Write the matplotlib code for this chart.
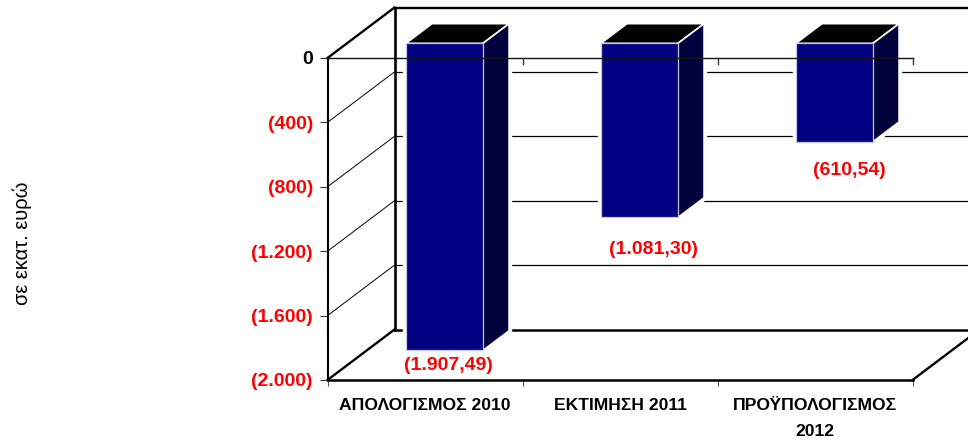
import matplotlib
matplotlib.use("Agg")
import matplotlib.pyplot as plt
from matplotlib.patches import Polygon

categories = ["ΑΠΟΛΟΓΙΣΜΟΣ 2010", "ΕΚΤΙΜΗΣΗ 2011", "ΠΡΟΫΠΟΛΟΓΙΣΜΟΣ\n2012"]
values = [-1907.49, -1081.30, -610.54]
value_labels = ["(1.907,49)", "(1.081,30)", "(610,54)"]
y_ticks = [0, -400, -800, -1200, -1600, -2000]
y_tick_labels = ["0", "(400)", "(800)", "(1.200)", "(1.600)", "(2.000)"]
y_title = "σε εκατ. ευρώ"

label_dx = [4, 14, 15]
label_dy = [-7, -24, -20]

W, H = 968, 445
L, R, T, B = 327.5, 912.5, 58, 380
DX, DY = 67, 50.5
plt.rcParams["font.family"] = ["Liberation Sans", "DejaVu Sans"]

fig = plt.figure(figsize=(W / 100, H / 100), dpi=100, facecolor="white")
ax = fig.add_axes([L / W, 1 - B / H, (R - L) / W, (B - T) / H])
ax.set_xlim(0, 3)
ax.set_ylim(-2000, 0)
ax.patch.set_visible(False)

ux = 3 / (R - L)
uy = 2000 / (B - T)


def proj(x, y, d):
    return (x + d * DX * ux, y + d * DY * uy)


def line(p0, p1, lw, z=1, color="black"):
    ax.plot([p0[0], p1[0]], [p0[1], p1[1]], color=color, lw=lw, clip_on=False,
            zorder=z, solid_capstyle="projecting")


# walls and gridlines
for t in y_ticks[1:-1]:
    line(proj(0, t, 0), proj(0, t, 1), 0.7)
    line(proj(0, t, 1), proj(3, t, 1), 0.9)
line(proj(0, 0, 0), proj(0, 0, 1), 1.7)
line(proj(0, -2000, 0), proj(0, -2000, 1), 1.7)
line(proj(3, -2000, 0), proj(3, -2000, 1), 1.7)
line(proj(0, 0, 1), proj(3, 0, 1), 1.7)
line(proj(0, -2000, 1), proj(3, -2000, 1), 1.8)
line(proj(0, 0, 1), proj(0, -2000, 1), 1.9)

# bars
D0, D1 = 0.29, 0.68
BW = 0.395
for i, v in enumerate(values):
    c = i + 0.5
    x0, x1 = c - BW / 2, c + BW / 2
    front = [proj(x0, 0, D0), proj(x1, 0, D0), proj(x1, v, D0), proj(x0, v, D0)]
    top = [proj(x0, 0, D0), proj(x1, 0, D0), proj(x1, 0, D1), proj(x0, 0, D1)]
    side = [proj(x1, 0, D0), proj(x1, 0, D1), proj(x1, v, D1), proj(x1, v, D0)]
    outline = [front[0], top[3], top[2], side[2], side[3], front[3]]
    ax.add_patch(Polygon(outline, closed=True, fc="white", ec="white", lw=4.5,
                         clip_on=False, zorder=3))
    ax.add_patch(Polygon(top, closed=True, fc="black", ec="white", lw=1.2,
                         clip_on=False, zorder=4))
    ax.add_patch(Polygon(side, closed=True, fc="#00003C", ec="white", lw=1.2,
                         clip_on=False, zorder=4))
    ax.add_patch(Polygon(front, closed=True, fc="#000080", ec="#C8C8E6", lw=0.9,
                         clip_on=False, zorder=5))
    px, py = proj(c, v, D0)
    ax.annotate(value_labels[i], (px, py), xytext=(label_dx[i], label_dy[i]),
                textcoords="offset pixels", ha="center", va="top", color="#FF0000",
                fontsize=14, fontweight="bold", zorder=7, annotation_clip=False)

# front zero line drawn over bars
line((0, 0), (3, 0), 1.0, z=6, color="#111111")
for x in [1, 2, 3]:
    ax.plot([x, x], [0, -6 * uy], color="#333333", lw=1.0, clip_on=False, zorder=6)

# axes
for s in ["top", "right"]:
    ax.spines[s].set_visible(False)
ax.spines["left"].set_linewidth(1.5)
ax.spines["bottom"].set_linewidth(1.8)
for s in ["left", "bottom"]:
    ax.spines[s].set_zorder(6)

ax.set_yticks(y_ticks)
ax.set_yticklabels(y_tick_labels, fontsize=14, fontweight="bold", color="#FF0000")
ax.get_yticklabels()[0].set_color("black")
ax.tick_params(axis="y", length=5.5, width=0.8, color="#333333", pad=5)

ax.set_xticks([0, 1, 2, 3])
ax.set_xticklabels([])
ax.tick_params(axis="x", length=4.5, width=0.8, color="#555555")
for i, c in enumerate(categories):
    ax.annotate(c, (i + 0.5, -2000), xytext=(0, -18), textcoords="offset pixels",
                ha="center", va="top", fontsize=12.6, fontweight="bold",
                linespacing=1.95, color="black", annotation_clip=False)

fig.text(22 / W, 1 - 243 / H, y_title, rotation=90, ha="center", va="center",
         fontsize=14.5, color="black")

fig.savefig("out.png", dpi=100, facecolor="white")
